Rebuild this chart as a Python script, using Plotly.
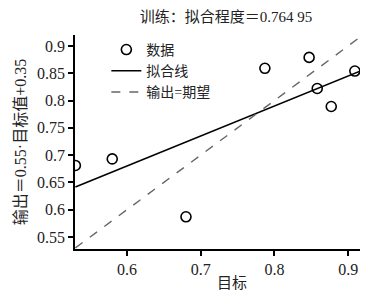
import plotly.graph_objects as go

target = [0.530, 0.580, 0.680, 0.787, 0.847, 0.858, 0.877, 0.909]
output = [0.681, 0.693, 0.587, 0.859, 0.879, 0.822, 0.789, 0.854]
fit_x = [0.53, 0.916]
fit_slope = 0.55
fit_intercept = 0.35
ideal_x = [0.53, 0.92]
title_text = "训练：拟合程度＝0.764 95"
y_label = "输出＝0.55·目标值+0.35"
x_label = "目标"
x_ticks = [0.6, 0.7, 0.8, 0.9]
y_ticks = [0.55, 0.6, 0.65, 0.7, 0.75, 0.8, 0.85, 0.9]

FONT = "Liberation Serif, Noto Sans CJK SC"

fig = go.Figure()
fig.add_trace(go.Scatter(
    x=target, y=output, mode="markers", name="数据",
    marker=dict(symbol="circle-open", size=10, color="black", line=dict(width=1.6)),
))
fig.add_trace(go.Scatter(
    x=fit_x, y=[fit_slope * v + fit_intercept for v in fit_x], mode="lines", name="拟合线",
    line=dict(color="black", width=1.6),
))
fig.add_trace(go.Scatter(
    x=ideal_x, y=ideal_x, mode="lines", name="输出=期望",
    line=dict(color="#666666", width=1.4, dash="dash"),
))

fig.update_layout(
    width=387, height=298,
    margin=dict(l=75, r=27, t=35, b=49, autoexpand=False),
    paper_bgcolor="white", plot_bgcolor="white",
    font=dict(family=FONT, size=14, color="#222"),
    title=dict(text=title_text, x=(226 / 387), xanchor="center", y=1 - 17 / 298, yanchor="middle",
               font=dict(size=15, family=FONT)),
    showlegend=True,
    legend=dict(x=0.11, y=1.005, xanchor="left", yanchor="top", bgcolor="rgba(0,0,0,0)",
                font=dict(size=14, family=FONT), tracegroupgap=0, itemwidth=30),
    xaxis=dict(range=[0.5295, 0.916], tickvals=x_ticks, ticktext=[str(v) for v in x_ticks],
               showgrid=False, zeroline=False, showline=True, linecolor="black", linewidth=1.5,
               ticks="outside", ticklen=5, tickwidth=1.5, tickcolor="black",
               automargin=False, tickfont=dict(size=16)),
    yaxis=dict(range=[0.528, 0.92], tickvals=y_ticks, ticktext=[str(v) for v in y_ticks],
               showgrid=False, zeroline=False, showline=True, linecolor="black", linewidth=1.5,
               ticks="outside", ticklen=5, tickwidth=1.5, tickcolor="black",
               automargin=False,
               title=dict(text=y_label, standoff=6, font=dict(size=16)),
               tickfont=dict(size=16)),
    annotations=[dict(text=x_label, xref="paper", yref="paper", x=(232 - 75) / 285,
                      y=-(283 - 249) / 214, xanchor="center", yanchor="middle",
                      showarrow=False, font=dict(size=15, family=FONT))],
)

fig.write_html("out.html", config={"displayModeBar": False},
               post_script="document.body.style.margin='0';")
